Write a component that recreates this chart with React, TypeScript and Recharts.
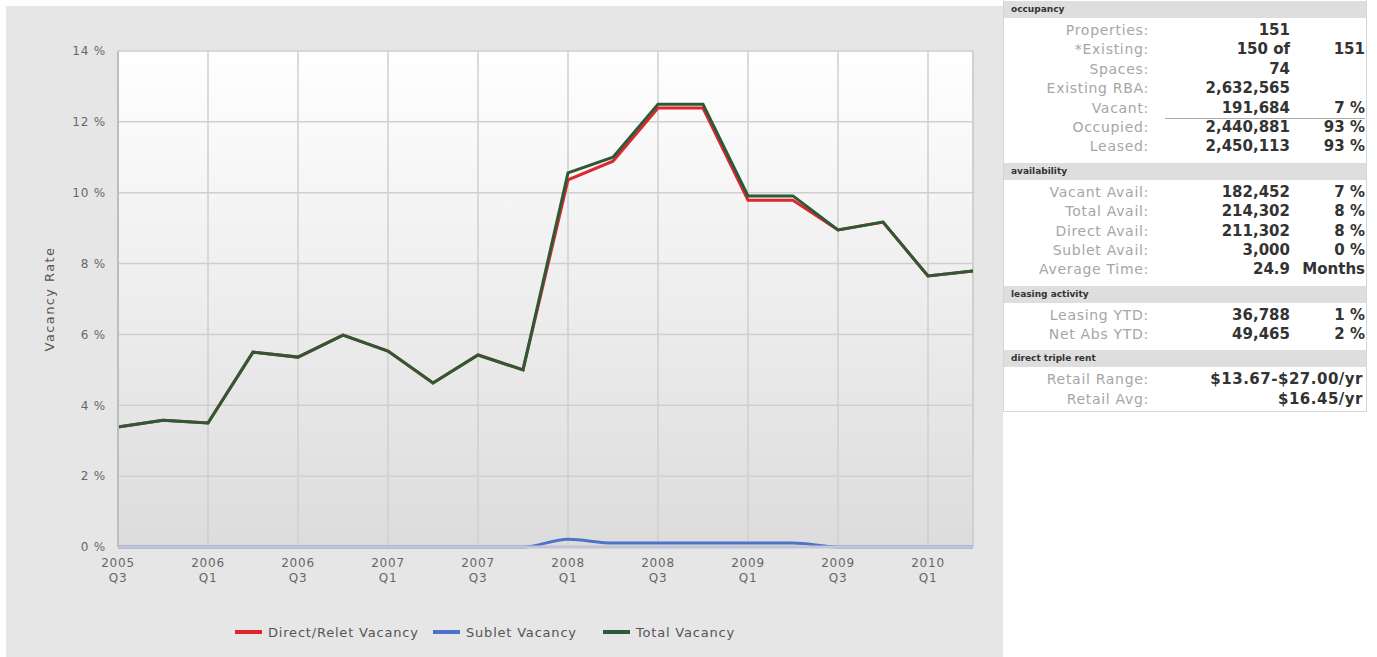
import React from 'react';
import { LineChart, Line, XAxis, YAxis, CartesianGrid, Legend, ReferenceLine } from 'recharts';

const quarters = [
  '2005 Q3', '2005 Q4', '2006 Q1', '2006 Q2', '2006 Q3', '2006 Q4', '2007 Q1', '2007 Q2', '2007 Q3', '2007 Q4',
  '2008 Q1', '2008 Q2', '2008 Q3', '2008 Q4', '2009 Q1', '2009 Q2', '2009 Q3', '2009 Q4', '2010 Q1', '2010 Q2',
];
const directRelet = [3.39, 3.58, 3.5, 5.5, 5.36, 5.98, 5.53, 4.63, 5.42, 5.0, 10.36, 10.89, 12.39, 12.39, 9.79, 9.79, 8.95, 9.17, 7.65, 7.79];
const sublet = [0, 0, 0, 0, 0, 0, 0, 0, 0, 0, 0.22, 0.11, 0.11, 0.11, 0.11, 0.11, 0, 0, 0, 0];
const totalVacancy = [3.39, 3.58, 3.5, 5.5, 5.36, 5.98, 5.53, 4.63, 5.42, 5.0, 10.56, 11.0, 12.5, 12.5, 9.91, 9.91, 8.95, 9.17, 7.65, 7.79];
const yTicks = [0, 2, 4, 6, 8, 10, 12, 14];
const labeledQuarters = quarters.filter((_, i) => i % 2 === 0);

const seriesNames = ['Direct/Relet Vacancy', 'Sublet Vacancy', 'Total Vacancy'];
const seriesColors = ['#e0262c', '#4d74c9', '#2c5a36'];

const occupancyRows = [
  ['Properties:', '151', ''],
  ['*Existing:', '150 of', '151'],
  ['Spaces:', '74', ''],
  ['Existing RBA:', '2,632,565', ''],
  ['Vacant:', '191,684', '7 %'],
  ['Occupied:', '2,440,881', '93 %'],
  ['Leased:', '2,450,113', '93 %'],
];
const availabilityRows = [
  ['Vacant Avail:', '182,452', '7 %'],
  ['Total Avail:', '214,302', '8 %'],
  ['Direct Avail:', '211,302', '8 %'],
  ['Sublet Avail:', '3,000', '0 %'],
  ['Average Time:', '24.9', 'Months'],
];
const leasingRows = [
  ['Leasing YTD:', '36,788', '1 %'],
  ['Net Abs YTD:', '49,465', '2 %'],
];
const rentRows = [
  ['Retail Range:', '$13.67-$27.00/yr', ''],
  ['Retail Avg:', '$16.45/yr', ''],
];
const sections = [
  { title: 'occupancy', rows: occupancyRows },
  { title: 'availability', rows: availabilityRows },
  { title: 'leasing activity', rows: leasingRows },
  { title: 'direct triple rent', rows: rentRows },
];

const data = quarters.map((q, i) => ({
  q,
  direct: directRelet[i],
  sublet: sublet[i],
  total: totalVacancy[i],
}));

const FONT = '"DejaVu Sans", Verdana, sans-serif';

const XTick = (props: any) => {
  const { x, y, payload } = props;
  const [yr, qt] = String(payload.value).split(' ');
  return (
    <g transform={`translate(${x},${y})`}>
      <text textAnchor="middle" fill="#666" fontSize={12} letterSpacing={0.8} fontFamily={FONT}>
        <tspan x={0} dy={12}>{yr}</tspan>
        <tspan x={0} dy={15}>{qt}</tspan>
      </text>
    </g>
  );
};

const renderLegend = () => (
  <div style={{ display: 'flex', fontFamily: FONT, fontSize: 13, color: '#555', letterSpacing: 0.8, height: 20, alignItems: 'center' }}>
    {seriesNames.map((n, i) => (
      <div key={n} style={{ display: 'flex', alignItems: 'center', width: i === 0 ? 198 : i === 1 ? 170 : 160 }}>
        <div style={{ width: 27, height: 4, background: seriesColors[i], marginRight: 6 }} />
        <span>{n}</span>
      </div>
    ))}
  </div>
);

const yLabel = (props: any) => {
  const vb = props.viewBox || { y: 51, height: 496 };
  const cy = vb.y + vb.height / 2;
  return (
    <text x={49} y={cy} transform={`rotate(-90, 49, ${cy})`} textAnchor="middle" dominantBaseline="central" fill="#555" fontSize={13} letterSpacing={1.4} fontFamily={FONT}>
      Vacancy Rate
    </text>
  );
};

const Panel = () => {
  let nodes: any[] = [];
  return (
    <div style={{ position: 'absolute', left: 1003, top: 0, width: 362, height: 411, border: '1px solid #d6d6d6', borderTop: 'none', background: '#fff', fontFamily: FONT }}>
      {sections.map((s, si) => (
        <div key={s.title} style={{ marginTop: si === 0 ? 1 : 6 }}>
          <div style={{ height: 17, background: '#dedede', fontSize: 9, fontWeight: 'bold', color: '#333', lineHeight: '17px', paddingLeft: 7, marginBottom: 3 }}>
            {s.title}
          </div>
          {s.rows.map((r) => (
            <div key={r[0]} style={{ display: 'grid', gridTemplateColumns: '145px 141px 75px', height: 19.4, lineHeight: '19.4px', position: 'relative' }}>
              <div style={{ textAlign: 'right', color: '#a6a6a6', fontSize: 14, letterSpacing: 0.7, whiteSpace: 'nowrap' }}>{r[0]}</div>
              {r[2] === '' && r[1].startsWith('$') ? (
                <div style={{ gridColumn: '2 / 4', textAlign: 'right', color: '#333', fontWeight: 'bold', fontSize: 15, letterSpacing: 0.5, paddingRight: 2, whiteSpace: 'nowrap' }}>{r[1]}</div>
              ) : (
                <>
                  <div style={{ textAlign: 'right', color: '#333', fontWeight: 'bold', fontSize: 15, whiteSpace: 'nowrap', borderBottom: r[0] === 'Vacant:' ? '1px solid #aaa' : 'none', marginLeft: 16 }}>{r[1]}</div>
                  <div style={{ textAlign: 'right', color: '#333', fontWeight: 'bold', fontSize: 15, whiteSpace: 'nowrap', borderBottom: r[0] === 'Vacant:' ? '1px solid #aaa' : 'none' }}>{r[2]}</div>
                </>
              )}
            </div>
          ))}
        </div>
      ))}
    </div>
  );
};

export default function App() {
  return (
    <div style={{ position: 'absolute', left: 0, top: 0, width: 1377, height: 657, background: '#fff', overflow: 'hidden' }}>
      <div style={{ position: 'absolute', left: 6, top: 6, width: 997, height: 651, background: '#e6e6e6' }} />
      <div style={{ position: 'absolute', left: 0, top: 0 }}>
        <LineChart width={1003} height={657} data={data} margin={{ top: 51, right: 30, left: 30, bottom: 50 }}>
          <defs>
            <linearGradient id="plotBg" x1="0" y1="0" x2="0" y2="1">
              <stop offset="0%" stopColor="#ffffff" />
              <stop offset="100%" stopColor="#dcdcdc" />
            </linearGradient>
          </defs>
          <CartesianGrid stroke="#cfcfcf" strokeWidth={1.5} fill="url(#plotBg)" fillOpacity={1} />
          <XAxis
            dataKey="q"
            ticks={labeledQuarters}
            interval={0}
            tick={<XTick />}
            tickLine={false}
            tickSize={0}
            tickMargin={8}
            height={40}
            axisLine={false}
            padding={{ left: 0, right: 0 }}
          />
          <YAxis
            domain={[0, 14]}
            ticks={yTicks}
            tickFormatter={(v: number) => `${v} %`}
            tick={{ fill: '#666', fontSize: 12, fontFamily: FONT, letterSpacing: 0.8 }}
            tickLine={false}
            tickSize={0}
            tickMargin={12}
            width={88}
            axisLine={{ stroke: '#bdbdbd', strokeWidth: 2 }}
            label={yLabel}
          />
          <ReferenceLine x="2010 Q2" stroke="#cfcfcf" strokeWidth={2} />
          <Line type="linear" dataKey="direct" name={seriesNames[0]} stroke={seriesColors[0]} strokeWidth={3} dot={false} isAnimationActive={false} />
          <Line type="monotone" dataKey="sublet" name={seriesNames[1]} stroke={seriesColors[1]} strokeWidth={3} dot={false} isAnimationActive={false} />
          <Line type="linear" dataKey="total" name={seriesNames[2]} stroke={seriesColors[2]} strokeWidth={3} dot={false} isAnimationActive={false} />
          <ReferenceLine y={0} stroke="#c4c4da" strokeWidth={3} />
          <Legend content={renderLegend} verticalAlign="bottom" align="left" wrapperStyle={{ left: 235, bottom: 15, width: 540, height: 20 }} />
        </LineChart>
      </div>
      <Panel />
    </div>
  );
}
